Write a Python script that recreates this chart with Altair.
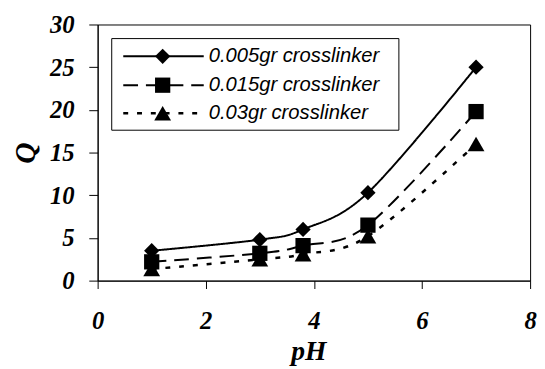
import altair as alt
import pandas as pd

# ---- data ----
ph = [1, 3, 3.8, 5, 7]
q_005 = [3.5, 4.8, 6.0, 10.3, 25.0]
q_015 = [2.2, 3.2, 4.1, 6.5, 19.8]
q_03 = [1.35, 2.5, 3.1, 5.2, 16.0]
series_names = ["0.005gr crosslinker", "0.015gr crosslinker", "0.03gr crosslinker"]
x_ticks = [0, 2, 4, 6, 8]
y_ticks = [0, 5, 10, 15, 20, 25, 30]

series_values = [q_005, q_015, q_03]

# styles per series
dashes = [[1, 0], [15, 8], [5, 9]]
shapes = ["diamond", "square", "triangle-up"]
sizes = [240, 240, 290]
widths = [2, 2, 2.5]

serif = "Liberation Serif"
sans = "Liberation Sans"

common = dict(labelFont=serif, labelFontStyle="italic", labelFontWeight="bold",
              labelFontSize=25, labelColor="black", titleFont=serif,
              titleFontStyle="italic", titleFontWeight="bold", titleColor="black",
              domainColor="black", tickColor="black", grid=False,
              labelFlush=False, labelOverlap=False)

x_enc = alt.X(
    "pH:Q",
    scale=alt.Scale(domain=[0, 8], nice=False),
    axis=alt.Axis(values=x_ticks, tickSize=8, labelPadding=21,
                  title="pH", titleY=80, titleFontSize=28,
                  titleX=214, titleBaseline="alphabetic", **common),
)
y_enc = alt.Y(
    "Q:Q",
    scale=alt.Scale(domain=[0, 30], nice=False),
    axis=alt.Axis(values=y_ticks, tickSize=9, labelPadding=15,
                  title="Q", titleX=-64, titleY=130,
                  titleFontSize=30, titleAngle=270, titleBaseline="alphabetic", **common),
)

layers = []
for name, vals, dash, shp, sz, sw in zip(series_names, series_values, dashes, shapes, sizes, widths):
    d = pd.DataFrame({"pH": ph, "Q": vals, "series": name})
    base = alt.Chart(d)
    layers.append(
        base.mark_line(color="black", strokeWidth=sw, strokeDash=dash, interpolate="cardinal")
        .encode(x=x_enc, y=y_enc)
    )
    layers.append(
        base.mark_point(shape=shp, size=sz, filled=True, color="black", opacity=1)
        .encode(x=x_enc, y=y_enc)
    )

# ---- legend (drawn manually) ----
box = alt.Chart(pd.DataFrame({"series": ["box"]})).mark_rect(
    fill="white", stroke="black", strokeWidth=1
).encode(x=alt.value(14.3), x2=alt.value(305.8), y=alt.value(14.3), y2=alt.value(107.3))
layers.append(box)

row_y = [32.3, 61.6, 90.0]
for name, ry, dash, shp, sz, sw in zip(series_names, row_y, dashes, shapes, sizes, widths):
    ld = alt.Chart(pd.DataFrame({"series": [name]}))
    layers.append(
        ld.mark_rule(color="black", strokeWidth=sw, strokeDash=dash)
        .encode(x=alt.value(26), x2=alt.value(107.7), y=alt.value(ry))
    )
    layers.append(
        ld.mark_point(shape=shp, size=sz, filled=True, color="black", opacity=1)
        .encode(x=alt.value(66), y=alt.value(ry))
    )
    layers.append(
        ld.mark_text(align="left", baseline="middle", font=sans, fontStyle="italic",
                     fontSize=20.5, color="black")
        .encode(x=alt.value(112.7), y=alt.value(ry), text="series:N")
    )

chart = (
    alt.layer(*layers)
    .properties(
        width=439,
        height=260,
        autosize=alt.AutoSizeParams(type="none"),
        padding={"left": 91, "top": 14, "right": 7, "bottom": 90},
    )
    .configure_view(stroke="black", strokeWidth=1)
)

chart.save("out.html", embed_options={"renderer": "svg", "actions": False})
